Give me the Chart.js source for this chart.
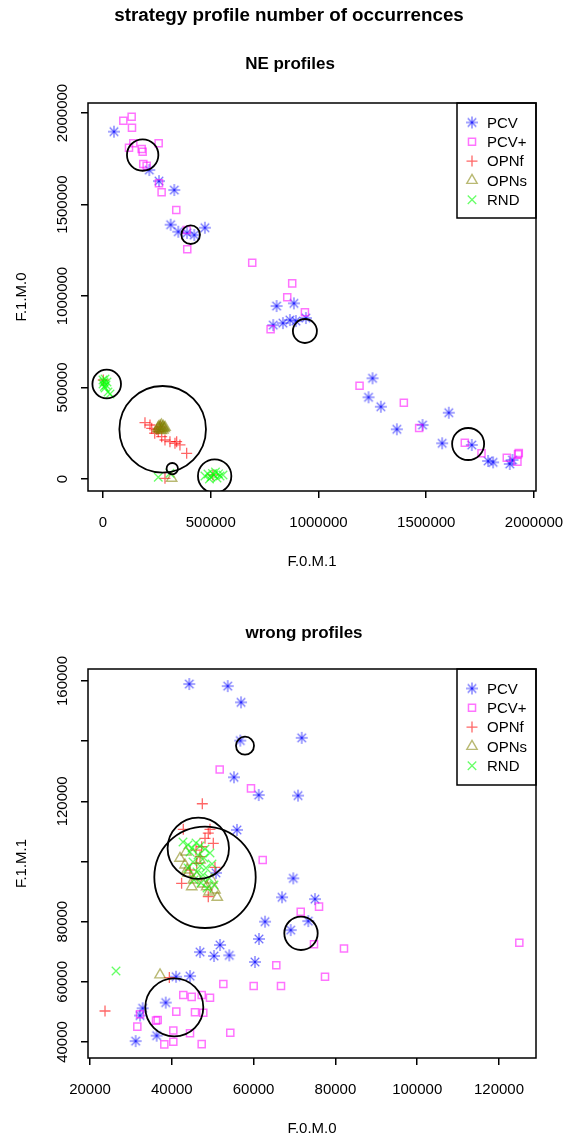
<!DOCTYPE html>
<html>
<head>
<meta charset="utf-8">
<title>strategy profile number of occurrences</title>
<script src="https://cdn.jsdelivr.net/npm/chart.js@4.4.1/dist/chart.umd.min.js"></script>
<style>
  html, body { margin: 0; padding: 0; background: #fff; }
  canvas { display: block; }
</style>
</head>
<body>
<canvas id="neChart" width="578" height="568"></canvas>
<canvas id="wrongChart" width="578" height="568"></canvas>
<script>
// ---- data ----
const seriesNames = ['PCV', 'PCV+', 'OPNf', 'OPNs', 'RND'];

// NE profiles: [F.0.M.1, F.1.M.0]
const nePCV = [
  [51000, 1898000], [214700, 1688400], [259700, 1628000], [330700, 1579000], [314000, 1389500],
  [349300, 1351300], [390000, 1345000], [423500, 1333200], [473000, 1373000],
  [805600, 945000], [886000, 960000], [790000, 841000], [834800, 852000], [867300, 868800],
  [895100, 863300], [941500, 879700],
  [1250800, 550200], [1232300, 446400], [1289300, 395000], [1363600, 271500], [1482800, 295000],
  [1604700, 362300], [1573700, 195000], [1711400, 185800], [1787000, 98400], [1810200, 91000],
  [1887700, 82000], [1900200, 103800]
];
const nePCVplus = [
  [94300, 1958000], [133000, 1979800], [134500, 1919600], [258300, 1834300], [120600, 1810300],
  [140600, 1834300], [179500, 1803000], [184000, 1788400], [187000, 1721000], [202600, 1712000],
  [259700, 1615700], [272000, 1566500], [340000, 1469800], [388000, 1360500], [391000, 1255000],
  [692500, 1182000], [878000, 1069000], [855000, 992800], [937000, 910800], [777800, 818000],
  [1190500, 509800], [1396000, 417000], [1467000, 278700], [1679000, 198300], [1756400, 140400],
  [1873700, 116400], [1923200, 94500], [1929400, 142000], [1926000, 135000]
];
const neOPNf = [
  [194800, 307600], [218000, 295000], [225900, 277000], [256500, 258400], [272300, 231100],
  [287600, 213100], [310700, 203800], [334000, 195000], [341800, 203800], [357100, 186000],
  [388200, 140500], [250000, 270000], [265000, 285000], [240000, 250000],
  [287600, 3800], [1400, 541000], [510000, 22000]
];
const neOPNs = [
  [258000, 285000], [265000, 290000], [272000, 295000], [280000, 288000], [268000, 278000],
  [276000, 280000], [284000, 275000], [262000, 270000], [270000, 265000], [278000, 268000],
  [288000, 282000], [255000, 276000], [318600, 3800]
];
const neRND = [
  [0, 541000], [4600, 530000], [13900, 513600], [9300, 497000], [23200, 475000], [32500, 464400],
  [0, 519000], [9300, 546000], [18500, 530000], [6000, 505000],
  [256500, 9300], [310700, 31100],
  [473000, 16400], [487000, 27000], [501000, 10000], [515000, 21000], [529000, 5000],
  [543000, 16000], [557000, 22000], [494000, 0], [522000, 38000], [508000, 30000], [536000, 28000]
];
// black rings: [x, y, radius]
const neCircles = [
  [184100, 1770300, 15.7], [406800, 1334800, 9.3], [936900, 808700, 12], [17200, 519100, 14.3],
  [276900, 271600, 43.3], [321400, 56300, 5.7], [518100, 16400, 16.7], [1694300, 191200, 16]
];
const neXTicks = [0, 500000, 1000000, 1500000, 2000000];
const neYTicks = [0, 500000, 1000000, 1500000, 2000000];

// wrong profiles: [F.0.M.0, F.1.M.1]
const wrPCV = [
  [44280, 159000], [53670, 158300], [56920, 152900], [56750, 140200], [71760, 141100],
  [55200, 128000], [61250, 122100], [70860, 121900], [55940, 110500], [69710, 94400],
  [66950, 88100], [75010, 87500], [62790, 80000], [73370, 80200], [69070, 77200],
  [61320, 74240], [51790, 72250], [46900, 69900], [50320, 68600], [54060, 68800],
  [60340, 66600], [41030, 61700], [44450, 61900], [38510, 53100], [32880, 51200],
  [32230, 48800], [36300, 42100], [31170, 40300], [50800, 96200]
];
const wrPCVplus = [
  [51710, 130600], [59360, 124300], [62230, 100500], [76000, 85000], [71520, 83300],
  [74770, 72500], [82100, 71100], [65550, 65500], [77460, 61700], [60020, 58600],
  [66700, 58600], [52600, 59300], [42810, 55600], [44860, 55000], [47310, 55600],
  [49340, 54700], [41100, 50100], [45670, 49900], [47700, 49700], [32230, 49200],
  [31570, 45100], [36140, 47100], [36550, 47300], [38170, 39200], [40370, 40100],
  [40370, 43800], [44450, 42900], [47310, 39300], [54300, 43100], [124970, 73000]
];
const wrOPNf = [
  [47460, 119200], [42810, 110700], [49340, 110700], [48920, 109400], [48120, 107700],
  [50150, 106050], [47310, 104900], [50560, 98070], [42400, 92750], [48920, 88300],
  [46090, 99400], [46900, 101600], [44450, 97180], [45920, 103800],
  [39400, 61400], [23670, 50300]
];
const wrOPNs = [
  [42000, 101060], [43230, 98840], [44030, 96080], [45260, 93850], [44870, 91630],
  [49750, 93850], [50560, 90530], [51120, 88100], [46090, 94950], [48530, 91630],
  [43720, 97180], [46900, 100500], [47630, 92520], [49100, 89860], [43470, 103160],
  [37120, 62300]
];
const wrRND = [
  [42740, 106480], [43960, 105490], [44940, 104490], [45920, 106150], [46900, 105150],
  [48120, 104160], [44450, 103160], [46410, 102160], [47870, 101170], [49340, 102830],
  [45180, 99840], [46900, 98510], [48360, 97840], [49830, 99170], [46160, 96510],
  [47630, 95510], [49100, 94520], [47140, 92860], [48610, 91190], [50320, 92190],
  [43960, 97840], [45430, 93850], [26360, 63600]
];
const wrCircles = [
  [57900, 138500, 9], [48120, 94750, 50.7], [46480, 104400, 30.7], [71590, 76130, 16.7],
  [40610, 51540, 29]
];
const wrXTicks = [20000, 40000, 60000, 80000, 100000, 120000];
const wrYTicks = [40000, 60000, 80000, 100000, 120000, 140000, 160000];

// ---- styles ----
const FONT = '"Liberation Sans", Arial, Helvetica, sans-serif';
const COLORS = ['rgba(0,0,255,0.55)', 'rgba(255,0,255,0.55)', 'rgba(255,0,0,0.6)',
                'rgba(128,128,0,0.55)', 'rgba(0,255,0,0.6)'];

// R's pch 8 is four separate strokes, so the centre gets darker
function asteriskImage(color, r) {
  const c = document.createElement('canvas');
  const s = Math.ceil(r * 2 + 4);
  c.width = c.height = s;
  const g = c.getContext('2d');
  const m = s / 2, d = r * Math.SQRT1_2;
  g.strokeStyle = color;
  g.lineWidth = 1.3;
  [[0, -r, 0, r], [-r, 0, r, 0], [-d, -d, d, d], [-d, d, d, -d]].forEach(([a, b, e, f]) => {
    g.beginPath(); g.moveTo(m + a, m + b); g.lineTo(m + e, m + f); g.stroke();
  });
  return c;
}
const asterisk = asteriskImage(COLORS[0], 6);

const MARKERS = [
  { pointStyle: asterisk, radius: 6, borderWidth: 1.3 },
  { pointStyle: 'rect', radius: 5, borderWidth: 1.5 },
  { pointStyle: 'cross', radius: 5.5, borderWidth: 1.3 },
  { pointStyle: 'triangle', radius: 6, borderWidth: 1.4 },
  { pointStyle: 'crossRot', radius: 6, borderWidth: 1.3 }
];

function drawMarker(ctx, i, x, y) {
  const m = MARKERS[i], r = m.radius;
  ctx.save();
  ctx.strokeStyle = COLORS[i];
  ctx.lineWidth = m.borderWidth;
  ctx.beginPath();
  if (i === 0) {
    ctx.drawImage(asterisk, x - asterisk.width / 2, y - asterisk.height / 2);
  } else if (i === 1) {
    const h = r * Math.SQRT1_2;
    ctx.rect(x - h, y - h, 2 * h, 2 * h);
  } else if (i === 2) {
    ctx.moveTo(x, y - r); ctx.lineTo(x, y + r); ctx.moveTo(x - r, y); ctx.lineTo(x + r, y);
  } else if (i === 3) {
    const h = r * Math.sqrt(3) / 2;
    ctx.moveTo(x, y - r); ctx.lineTo(x + h, y + r / 2); ctx.lineTo(x - h, y + r / 2); ctx.closePath();
  } else {
    const d = r * Math.SQRT1_2;
    ctx.moveTo(x - d, y - d); ctx.lineTo(x + d, y + d); ctx.moveTo(x - d, y + d); ctx.lineTo(x + d, y - d);
  }
  ctx.stroke();
  ctx.restore();
}

// box, titles, tick labels and the legend, R style
const rFrame = {
  id: 'rFrame',
  afterDraw(chart, args, o) {
    const { ctx, chartArea: a } = chart;
    const cx = (a.left + a.right) / 2;
    ctx.save();
    ctx.strokeStyle = '#000';
    ctx.lineWidth = 1.5;
    ctx.strokeRect(a.left, a.top, a.right - a.left, a.bottom - a.top);

    ctx.fillStyle = '#000';
    ctx.textAlign = 'center';
    ctx.textBaseline = 'alphabetic';
    if (o.main) {
      ctx.font = 'bold 18.8px ' + FONT;
      ctx.fillText(o.main, chart.width / 2, 21);
    }
    ctx.font = 'bold 17px ' + FONT;
    ctx.fillText(o.title, o.titleX || cx, o.titleY);

    ctx.font = '15px ' + FONT;
    ctx.fillText(o.xTitle, cx, a.bottom + 75);
    ctx.save();
    ctx.translate(25.5, (a.top + a.bottom) / 2);
    ctx.rotate(-Math.PI / 2);
    ctx.fillText(o.yTitle, 0, 0);
    ctx.restore();

    // x tick labels
    const xs = chart.scales.x;
    o.xTicks.forEach(v => ctx.fillText(String(v), xs.getPixelForValue(v), a.bottom + 35.5));

    // y tick labels, skipping any that would crowd the previous one
    const ys = chart.scales.y;
    let lastTop = null;
    o.yTicks.forEach(v => {
      const s = String(v), w = ctx.measureText(s).width, p = ys.getPixelForValue(v);
      if (lastTop !== null && lastTop - (p + w / 2) < 16) return;
      ctx.save();
      ctx.translate(66.5, p);
      ctx.rotate(-Math.PI / 2);
      ctx.fillText(s, 0, 0);
      ctx.restore();
      lastTop = p - w / 2;
    });

    // legend in the top right corner
    const lx = a.right - 79, lh = o.legendH;
    ctx.strokeRect(lx, a.top, 79, lh);
    ctx.textAlign = 'left';
    ctx.textBaseline = 'middle';
    seriesNames.forEach((name, i) => {
      const y = a.top + 19.5 + i * 19.3;
      drawMarker(ctx, i, lx + 15, y);
      ctx.fillStyle = '#000';
      ctx.fillText(name, lx + 30, y + 1);
    });
    ctx.restore();
  }
};

function buildDatasets(series, circles) {
  const sets = [{
    type: 'bubble',
    data: circles.map(([x, y, r]) => ({ x, y, r })),
    borderColor: '#000',
    backgroundColor: 'rgba(0,0,0,0)',
    borderWidth: 1.8,
    order: 0
  }];
  series.forEach((list, i) => {
    sets.push({
      label: seriesNames[i],
      data: list.map(([x, y]) => ({ x, y })),
      pointStyle: MARKERS[i].pointStyle,
      pointRadius: MARKERS[i].radius,
      pointBorderWidth: MARKERS[i].borderWidth,
      borderColor: COLORS[i],
      backgroundColor: 'rgba(0,0,0,0)',
      showLine: false,
      order: 5 - i
    });
  });
  return sets;
}

function makeChart(id, c) {
  const tickGrid = { drawOnChartArea: false, drawTicks: true, tickLength: 7, color: '#000', lineWidth: 1.5 };
  return new Chart(document.getElementById(id), {
    type: 'scatter',
    data: { datasets: buildDatasets(c.series, c.circles) },
    options: {
      responsive: false,
      animation: false,
      devicePixelRatio: 1,
      events: [],
      layout: { autoPadding: false, padding: { top: c.top, right: 42, left: 0, bottom: 0 } },
      plugins: {
        legend: { display: false },
        tooltip: { enabled: false },
        rFrame: {
          main: c.main, title: c.title, titleX: c.titleX, titleY: c.titleY,
          xTitle: c.xTitle, yTitle: c.yTitle,
          xTicks: c.xTicks, yTicks: c.yTicks, legendH: c.legendH
        }
      },
      scales: {
        x: {
          type: 'linear',
          min: c.xMin, max: c.xMax,
          afterBuildTicks: s => { s.ticks = c.xTicks.map(v => ({ value: v })); },
          afterFit: s => { s.height = c.xHeight; },
          grid: tickGrid,
          border: { display: false },
          ticks: { display: false }
        },
        y: {
          type: 'linear',
          min: c.yMin, max: c.yMax,
          afterBuildTicks: s => { s.ticks = c.yTicks.map(v => ({ value: v })); },
          afterFit: s => { s.width = 88; },
          grid: tickGrid,
          border: { display: false },
          ticks: { display: false }
        }
      }
    },
    plugins: [rFrame]
  });
}

makeChart('neChart', {
  series: [nePCV, nePCVplus, neOPNf, neOPNs, neRND],
  circles: neCircles,
  main: 'strategy profile number of occurrences',
  title: 'NE profiles', titleX: 290, titleY: 69,
  xTitle: 'F.0.M.1', yTitle: 'F.1.M.0',
  xTicks: neXTicks, yTicks: neYTicks,
  xMin: -69600, xMax: 2009300, yMin: -65600, yMax: 2054600,
  top: 103, xHeight: 77, legendH: 115
});

makeChart('wrongChart', {
  series: [wrPCV, wrPCVplus, wrOPNf, wrOPNs, wrRND],
  circles: wrCircles,
  title: 'wrong profiles', titleX: 304, titleY: 70,
  xTitle: 'F.0.M.0', yTitle: 'F.1.M.1',
  xTicks: wrXTicks, yTicks: wrYTicks,
  xMin: 19510, xMax: 129050, yMin: 34680, yMax: 163990,
  top: 101, xHeight: 78, legendH: 116
});
</script>
</body>
</html>
